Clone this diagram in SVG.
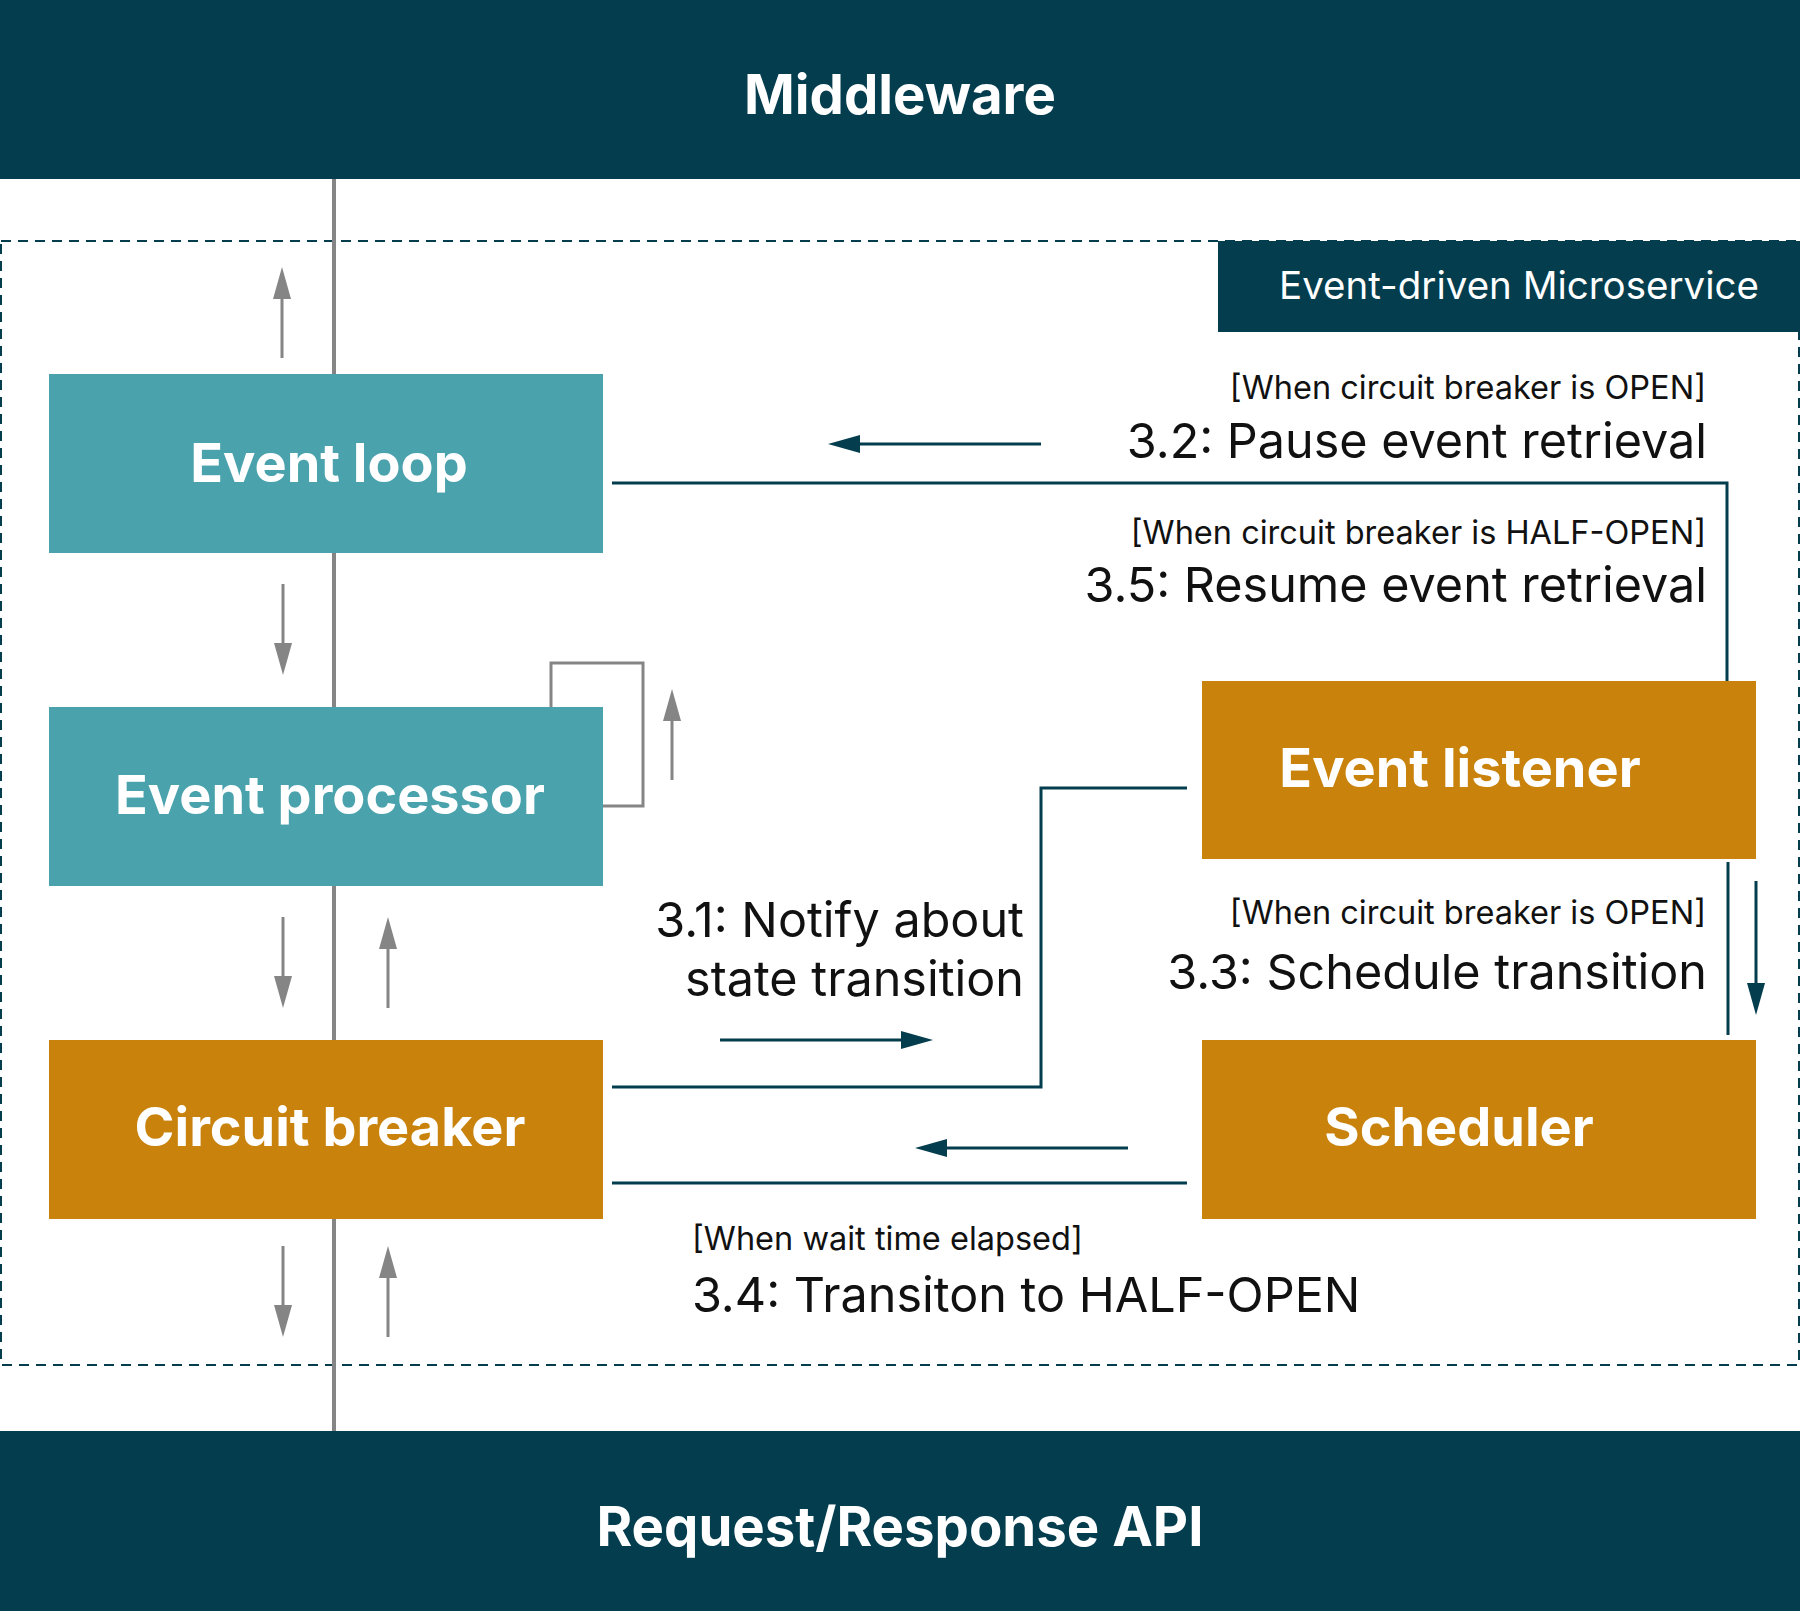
<svg xmlns="http://www.w3.org/2000/svg" width="1800" height="1611" viewBox="0 0 1800 1611">
<style>
.band{fill:#033d4e}
.teal{fill:#4aa2ad}
.orange{fill:#c9830d}
.title{font-family:Inter,"Liberation Sans",sans-serif;font-weight:700;fill:#fff;text-anchor:middle}
.node{font-family:Inter,"Liberation Sans",sans-serif;font-weight:700;font-size:54px;fill:#fff;text-anchor:middle}
.cond{font-family:Inter,"Liberation Sans",sans-serif;font-size:32.5px;fill:#111}
.msg{font-family:Inter,"Liberation Sans",sans-serif;font-size:48.5px;fill:#111}
.end{text-anchor:end}
.conn{fill:none;stroke:#033d4e;stroke-width:3}
.garrow{fill:none;stroke:#858585;stroke-width:3;marker-end:url(#gh)}
.tarrow{fill:none;stroke:#033d4e;stroke-width:3;marker-end:url(#th)}
</style>
<defs>
<marker id="gh" viewBox="0 0 32 18" refX="2" refY="9" markerWidth="32" markerHeight="18" markerUnits="userSpaceOnUse" orient="auto"><path d="M0,0 L32,9 L0,18 z" fill="#858585"/></marker>
<marker id="th" viewBox="0 0 32 18" refX="2" refY="9" markerWidth="32" markerHeight="18" markerUnits="userSpaceOnUse" orient="auto"><path d="M0,0 L32,9 L0,18 z" fill="#033d4e"/></marker>
</defs>
<rect width="1800" height="1611" fill="#fff"/>

<g id="middleware">
<rect class="band" x="0" y="0" width="1800" height="179"/>
<text class="title" x="900" y="114" font-size="54.5">Middleware</text>
</g>

<g id="microservice">
<rect x="1" y="241" width="1798" height="1124" fill="none" stroke="#033d4e" stroke-width="2" stroke-dasharray="10 7"/>
<rect class="band" x="1218" y="241" width="582" height="91"/>
<text x="1279" y="299" font-family="Inter,'Liberation Sans',sans-serif" font-size="38.5" fill="#fff">Event-driven Microservice</text>
</g>

<g id="request-response-api">
<rect class="band" x="0" y="1431" width="1800" height="180"/>
<text class="title" x="900" y="1546" font-size="54.5">Request/Response API</text>
</g>

<g id="connectors">
<line x1="334" y1="179" x2="334" y2="1431" stroke="#858585" stroke-width="4"/>
<path d="M551 707 V663 H643 V806 H603" fill="none" stroke="#858585" stroke-width="3"/>
<line class="garrow" x1="282" y1="358" x2="282" y2="297"/>
<line class="garrow" x1="283" y1="584" x2="283" y2="645"/>
<line class="garrow" x1="672" y1="780" x2="672" y2="719"/>
<line class="garrow" x1="283" y1="917" x2="283" y2="978"/>
<line class="garrow" x1="388" y1="1008" x2="388" y2="947"/>
<line class="garrow" x1="283" y1="1246" x2="283" y2="1307"/>
<line class="garrow" x1="388" y1="1337" x2="388" y2="1276"/>

<path class="conn" d="M612 483 H1727 V681"/>
<path class="conn" d="M1187 788 H1041 V1087 H612"/>
<line class="conn" x1="1728" y1="862" x2="1728" y2="1035"/>
<line class="conn" x1="612" y1="1183" x2="1187" y2="1183"/>

<line class="tarrow" x1="1041" y1="444" x2="858" y2="444"/>
<line class="tarrow" x1="720" y1="1040" x2="903" y2="1040"/>
<line class="tarrow" x1="1756" y1="881" x2="1756" y2="985"/>
<line class="tarrow" x1="1128" y1="1148" x2="945" y2="1148"/>

<text class="cond end" x="1706" y="399">[When circuit breaker is OPEN]</text>
<text class="msg end" x="1707" y="458">3.2: Pause event retrieval</text>
<text class="cond end" x="1706" y="544">[When circuit breaker is HALF-OPEN]</text>
<text class="msg end" x="1707" y="602">3.5: Resume event retrieval</text>
<text class="msg end" x="1024" y="937">3.1: Notify about</text>
<text class="msg end" x="1024" y="996">state transition</text>
<text class="cond end" x="1706" y="924">[When circuit breaker is OPEN]</text>
<text class="msg end" x="1707" y="989">3.3: Schedule transition</text>
<text class="cond" x="692" y="1250">[When wait time elapsed]</text>
<text class="msg" x="692" y="1312">3.4: Transiton to HALF-OPEN</text>
</g>

<g id="event-loop">
<rect class="teal" x="49" y="374" width="554" height="179"/>
<text class="node" x="329" y="482">Event loop</text>
</g>
<g id="event-processor">
<rect class="teal" x="49" y="707" width="554" height="179"/>
<text class="node" x="330" y="814">Event processor</text>
</g>
<g id="circuit-breaker">
<rect class="orange" x="49" y="1040" width="554" height="179"/>
<text class="node" x="330" y="1146">Circuit breaker</text>
</g>
<g id="event-listener">
<rect class="orange" x="1202" y="681" width="554" height="178"/>
<text class="node" x="1460" y="787">Event listener</text>
</g>
<g id="scheduler">
<rect class="orange" x="1202" y="1040" width="554" height="179"/>
<text class="node" x="1459" y="1146">Scheduler</text>
</g>
</svg>
